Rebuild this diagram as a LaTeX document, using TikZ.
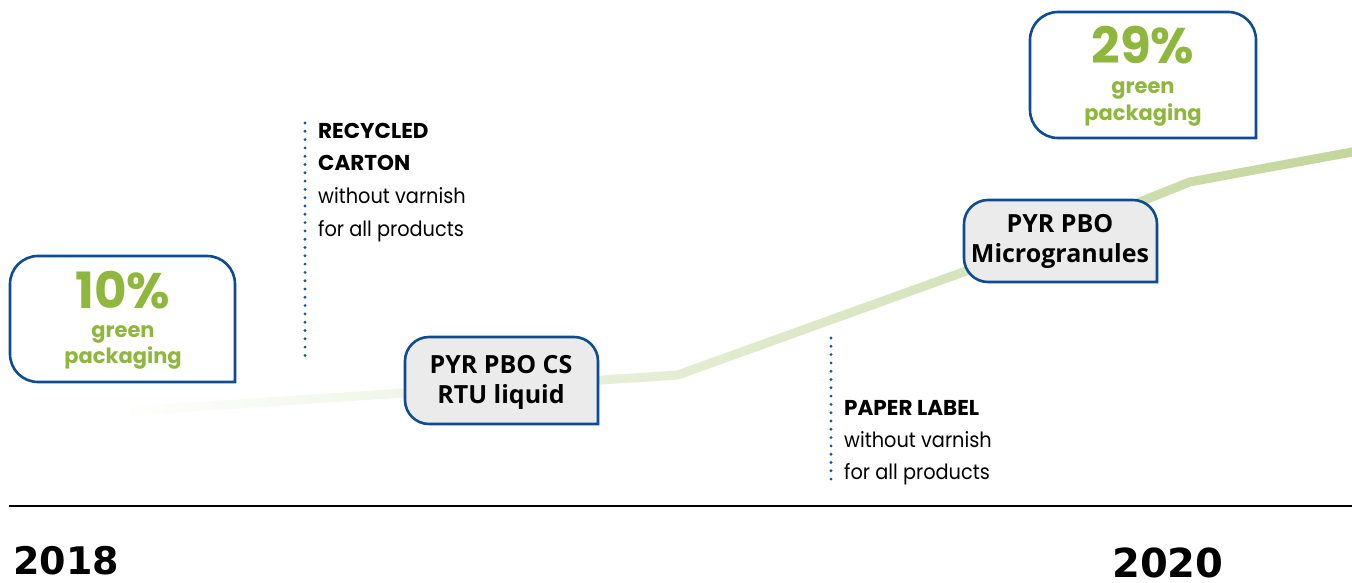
\documentclass[tikz,border=0pt]{standalone}
\usepackage{fontspec}
\setmainfont{Poppins}
\newfontfamily\futbook{Poppins}[FakeStretch=0.92]
\newfontfamily\segoe{Open Sans}
\newfontfamily\dvs{DejaVu Sans}
\usetikzlibrary{fadings}
\definecolor{boxblue}{HTML}{0D4C94}
\definecolor{pkggreen}{HTML}{8FB73E}
\definecolor{trend}{HTML}{C3D69B}
\definecolor{boxgray}{HTML}{EBEBEB}
\definecolor{dotblue}{HTML}{1A55A0}
\tikzfading[name=growfade, left color=transparent!100, right color=transparent!0]
\begin{document}
\begin{tikzpicture}[x=1pt,y=-1pt,
  tabbox/.style={draw=boxblue, fill=white, line width=2.6, rounded corners=28, line cap=rect},
  prodbox/.style={tabbox, fill=boxgray, rounded corners=24},
  pct/.style={text=pkggreen, font=\bfseries\fontsize{50}{50}\selectfont, anchor=base, inner sep=0, text depth=0pt},
  pkg/.style={text=pkggreen, font=\bfseries\fontsize{21}{21}\selectfont, anchor=base, inner sep=0},
  prod/.style={font=\segoe\bfseries\fontsize{25}{25}\selectfont, anchor=base, inner sep=0},
  notehead/.style={font=\bfseries\fontsize{21.5}{21.5}\selectfont, anchor=base west, inner sep=0},
  notebody/.style={font=\futbook\fontsize{21}{21}\selectfont, anchor=base west, inner sep=0},
  yearlbl/.style={font=\dvs\bfseries\fontsize{38}{38}\selectfont, anchor=base west, inner sep=0, text depth=0pt},
  dotline/.style={draw=dotblue, line width=3.2, line cap=round, dash pattern=on 0pt off 8.3pt},
  trendline/.style={draw=trend, line width=9, path fading=growfade}
]
\fill[white] (0,0) rectangle (1352,583);
\useasboundingbox (0,0) rectangle (1352,583);

% trend line
\coordinate (t0) at (130,411);
\coordinate (t1) at (678,375);
\coordinate (t2) at (975,268);
\coordinate (t3) at (1190,182);
\coordinate (t4) at (1358,151);
\draw[trendline] (t0) -- (t1) -- (t2) -- (t3) -- (t4);

% dotted markers
\coordinate (d1a) at (305,123);
\coordinate (d1b) at (305,357);
\coordinate (d2a) at (831,338);
\coordinate (d2b) at (831,484);
\draw[dotline] (d1a) -- (d1b);
\draw[dotline] (d2a) -- (d2b);

% boxes
\draw[tabbox] (235,382) -- (235,256) -- (10,256) -- (10,382) -- (235,382);
\draw[tabbox] (1256,138) -- (1256,12) -- (1030,12) -- (1030,138) -- (1256,138);
\draw[prodbox] (598,424) -- (598,337) -- (405,337) -- (405,424) -- (598,424);
\draw[prodbox] (1157,282) -- (1157,200) -- (964,200) -- (964,282) -- (1157,282);

% box texts
\node[pct] (p10) at (123,308) {10\%};
\node[pkg] (g10) at (123,337) {green};
\node[pkg] (k10) at (123,363) {packaging};
\node[pct] (p29) at (1143,64) {29\%};
\node[pkg] (g29) at (1143,94) {green};
\node[pkg] (k29) at (1143,121) {packaging};
\node[prod] (c1) at (501,373) {PYR PBO CS};
\node[prod] (c2) at (501,403) {RTU liquid};
\node[prod] (m1) at (1060,232) {PYR PBO};
\node[prod] (m2) at (1060,262) {Microgranules};

% notes
\node[notehead] (r1) at (318,139) {RECYCLED};
\node[notehead] (r2) at (318,171) {CARTON};
\node[notebody] (r3) at (318,204) {without varnish};
\node[notebody] (r4) at (318,236) {for all products};
\node[notehead] (l1) at (844,415) {PAPER LABEL};
\node[notebody] (l2) at (844,447) {without varnish};
\node[notebody] (l3) at (844,479) {for all products};

% axis
\coordinate (a0) at (9,506);
\coordinate (a1) at (1352,506);
\draw[line width=2.8] (a0) -- (a1);
\node[yearlbl] (y18) at (13,574) {2018};
\node[yearlbl, font=\dvs\bfseries\fontsize{40}{40}\selectfont] (y20) at (1112,577) {2020};
\end{tikzpicture}
\end{document}
